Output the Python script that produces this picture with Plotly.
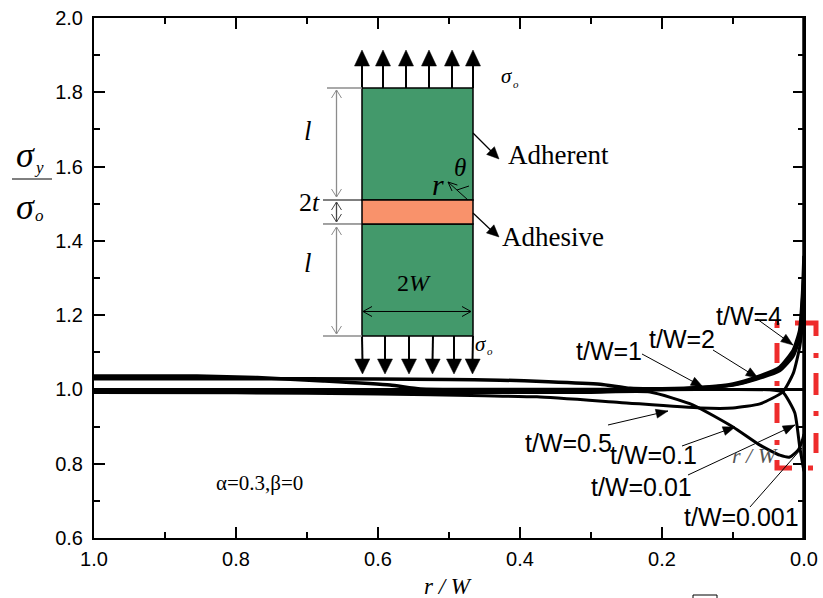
import math
import plotly.graph_objects as go

W, H = 823, 598
L, R, T, B = 94, 804, 18, 538

# ---- curve data: r/W and sigma_y/sigma_o ----
x_tw4 = [1.0, 0.8, 0.6, 0.5, 0.428, 0.36, 0.287, 0.245, 0.2, 0.142, 0.1, 0.067, 0.034, 0.015, 0.006, 0.002, 0.0]
y_tw4 = [1.029, 1.029, 1.028, 1.027, 1.025, 1.021, 1.014, 1.003, 1.002, 1.006, 1.015, 1.033, 1.06, 1.106, 1.16, 1.26, 1.36]
x_tw2 = [1.0, 0.855, 0.77, 0.677, 0.583, 0.54, 0.4, 0.3, 0.2, 0.142, 0.1, 0.067, 0.034, 0.015, 0.006, 0.002, 0.0]
y_tw2 = [1.036, 1.036, 1.032, 1.023, 1.012, 1.001, 1.0, 1.0, 1.0, 1.005, 1.013, 1.03, 1.055, 1.1, 1.15, 1.24, 1.32]
x_tw1 = [1.0, 0.7, 0.5, 0.3, 0.2, 0.142, 0.1, 0.067, 0.034, 0.015, 0.006, 0.0]
y_tw1 = [0.995, 0.995, 0.996, 0.999, 1.0, 1.004, 1.011, 1.027, 1.05, 1.09, 1.14, 1.28]
x_tw05 = [1.0, 0.8, 0.6, 0.45, 0.376, 0.26, 0.146, 0.1, 0.062, 0.03, 0.015, 0.006, 0.002, 0.0]
y_tw05 = [0.992, 0.991, 0.988, 0.983, 0.98, 0.965, 0.95, 0.95, 0.961, 0.993, 1.044, 1.115, 1.18, 1.26]
x_tw01 = [1.0, 0.7, 0.5, 0.3, 0.217, 0.156, 0.1, 0.062, 0.034, 0.02, 0.008, 0.002, 0.0]
y_tw01 = [0.992, 0.992, 0.992, 0.992, 0.993, 0.958, 0.899, 0.85, 0.823, 0.818, 0.837, 0.865, 0.88]
x_tw001 = [1.0, 0.7, 0.5, 0.3, 0.2, 0.1, 0.05, 0.03, 0.013, 0.006, 0.001, 0.0]
y_tw001 = [0.992, 0.992, 0.993, 0.997, 0.999, 1.0, 0.999, 0.993, 0.937, 0.845, 0.79, 0.78]
x_tw0001 = [1.0, 0.5, 0.2, 0.05, 0.0]
y_tw0001 = [1.0, 1.0, 1.0, 1.0, 1.0]

curves = [(x_tw4, y_tw4), (x_tw2, y_tw2), (x_tw1, y_tw1), (x_tw05, y_tw05),
          (x_tw01, y_tw01), (x_tw001, y_tw001), (x_tw0001, y_tw0001)]
widths = [3.5, 3.5, 3, 3, 3, 3, 3]

x_ticks = [1.0, 0.8, 0.6, 0.4, 0.2, 0.0]
y_ticks = [0.6, 0.8, 1.0, 1.2, 1.4, 1.6, 1.8, 2.0]

# curve labels: text, centre x px, centre y px
curve_labels = [
    ("t/W=4", 749, 316), ("t/W=2", 682, 339), ("t/W=1", 609, 351), ("t/W=0.5", 568, 443),
    ("t/W=0.1", 653, 455), ("t/W=0.01", 641, 487), ("t/W=0.001", 741, 517),
]
# leader arrows: start px, end px, with head?
leaders = [
    (757, 319, 793, 345, True), (713, 350, 758, 378, True), (642, 354, 703, 387, True),
    (608, 425, 668, 411, True), (682, 446, 735, 427, True), (688, 475, 795, 425, True),
    (750, 507, 802, 448, False),
]


def px(x):
    return (x - L) / (R - L)


def py(y):
    return 1 - (y - T) / (B - T)


def path(points, close=False):
    s = "M" + " L".join(f"{px(a):.5f},{py(b):.5f}" for a, b in points)
    return s + (" Z" if close else "")


shapes = []


def line(x0, y0, x1, y1, color="black", width=1.5, layer="above"):
    shapes.append(dict(type="path", path=path([(x0, y0), (x1, y1)]), xref="paper", yref="paper",
                       line=dict(color=color, width=width), layer=layer))


def head(x0, y0, x1, y1, length, half):
    a = math.atan2(y1 - y0, x1 - x0)
    bx, by = x1 - length * math.cos(a), y1 - length * math.sin(a)
    nx, ny = -math.sin(a), math.cos(a)
    shapes.append(dict(type="path", path=path([(x1, y1), (bx + half * nx, by + half * ny), (bx - half * nx, by - half * ny)], True),
                       xref="paper", yref="paper", fillcolor="black", line=dict(color="black", width=0.5), layer="above"))


def chevron(x0, y0, x1, y1, length, half, color, width=1):
    a = math.atan2(y1 - y0, x1 - x0)
    bx, by = x1 - length * math.cos(a), y1 - length * math.sin(a)
    nx, ny = -math.sin(a), math.cos(a)
    shapes.append(dict(type="path", path=path([(bx + half * nx, by + half * ny), (x1, y1), (bx - half * nx, by - half * ny)]),
                       xref="paper", yref="paper", line=dict(color=color, width=width), layer="above"))


def rect(x0, y0, x1, y1, fill):
    shapes.append(dict(type="rect", xref="paper", yref="paper", x0=px(x0), x1=px(x1), y0=py(y0), y1=py(y1),
                       fillcolor=fill, line=dict(color="black", width=1.5), layer="above"))


# red dash-dot highlight box, behind the curves
red_segments = [
    [(775, 323), (779, 323)], [(795, 323), (816, 323), (816, 336)], [(816, 353), (816, 358)],
    [(816, 373), (816, 395)], [(816, 411), (816, 416)], [(816, 433), (816, 453)],
    [(808, 468), (813, 468)], [(792, 468), (777, 468), (777, 460)], [(777, 440), (777, 445)],
    [(777, 403), (777, 423)], [(777, 381), (777, 386)], [(777, 343), (777, 363)], [(777, 323), (777, 328)],
]
for seg in red_segments:
    shapes.append(dict(type="path", path=path(seg), xref="paper", yref="paper",
                       line=dict(color="#EE2C2C", width=5), layer="below"))

# heavier right-hand frame edge
line(804, 18, 804, 538, "black", 3.5)

# specimen sketch
rect(362, 88, 473, 200, "#43996B")
rect(362, 224, 473, 336, "#43996B")
rect(362, 200, 473, 224, "#F9926B")

for x in [362, 383, 406, 429, 452, 473]:
    line(x, 88, x, 62, width=2)
    head(x, 88, x, 50, 16, 7.5)
for xa, xb in zip([362, 385, 409, 433, 454, 473], [362.5, 385, 409, 432.5, 454, 472.5]):
    line(xa, 336, xb, 362, width=2)
    head(xa, 336, xb, 374, 15, 7.5)

# dimension lines
gray = "#8c8c8c"
line(327, 88, 362, 88, gray, 1.3)
line(323, 200, 362, 200, "black", 1)
line(323, 224, 362, 224, "#444444", 1)
line(323, 336, 362, 336, gray, 1.3)
for y0, y1, col in [(90, 197, gray), (202, 222, "#444444"), (227, 334, gray)]:
    line(336.5, y0, 336.5, y1, col, 1.3)
    chevron(336.5, y1, 336.5, y0, 8, 5, col)
    chevron(336.5, y0, 336.5, y1, 8, 5, col)
line(363, 311.5, 471, 311.5, "black", 1)
chevron(471, 311.5, 363, 311.5, 9, 5, "black")
chevron(363, 311.5, 471, 311.5, 9, 5, "black")

# pointers in the sketch
line(473, 133, 492, 152, width=1.2)
head(473, 133, 499, 159, 12, 5.5)
line(473, 213, 492, 231, width=1.2)
head(473, 213, 499, 237, 12, 5.5)
line(468, 200, 448, 182, width=1)
chevron(468, 200, 448, 182, 9, 4, "black")
shapes.append(dict(type="path", path="M%.5f,%.5f Q%.5f,%.5f %.5f,%.5f" % (px(457), py(190), px(463), py(188), px(469), py(186)),
                   xref="paper", yref="paper", line=dict(color="black", width=1), layer="above"))

# fraction bar of the y title
line(12, 179, 52, 179, "black", 1)
# small clipped square under the plot
rect(693, 595, 717, 604, "rgba(0,0,0,0)")
shapes[-1]["line"] = dict(color="black", width=1)

# leaders for the curve labels
for x0, y0, x1, y1, has_head in leaders:
    line(x0, y0, x1, y1, "black", 1)
    if has_head:
        head(x0, y0, x1, y1, 12, 4.5)

SERIF = "Liberation Serif"
SANS = "Liberation Sans"


def text(s, x, y, size, family=SERIF, color="black", anchor="center"):
    return dict(text=s, x=px(x), y=py(y), xref="paper", yref="paper", xanchor=anchor, yanchor="middle",
                showarrow=False, font=dict(family=family, size=size, color=color))


annotations = [
    text("<i>σ</i>", 25, 155, 36), text("<i>y</i>", 39, 167, 17),
    text("<i>σ</i>", 25, 207, 36), text("<i>o</i>", 39, 215, 17),
    text("<i>σ</i>", 507, 76, 21), text("<i>o</i>", 516, 84, 11),
    text("<i>σ</i>", 481, 344, 21), text("<i>o</i>", 490, 351, 11),
    text("<i>l</i>", 308, 131, 27), text("<i>l</i>", 308, 263, 27),
    text("2<i>t</i>", 309, 202, 26), text("2<i>W</i>", 414, 283, 24),
    text("<i>θ</i>", 460, 167, 25), text("<i>r</i>", 438, 185, 30),
    text("Adherent", 558, 155, 27), text("Adhesive", 553, 237, 27),
    text("α=0.3,β=0", 259.5, 483, 21),
    text("<i>r / W</i>", 447.5, 586, 23),
    text("<i>r / W</i>", 755, 455, 22, color="#555555"),
]
for label, cx, cy in curve_labels:
    annotations.append(text(label, cx, cy, 25, SANS))

fig = go.Figure()
for (xs, ys), lw in zip(curves, widths):
    fig.add_trace(go.Scatter(x=xs, y=ys, mode="lines", line=dict(color="black", width=lw, shape="spline", smoothing=0.5),
                             showlegend=False, cliponaxis=False))

axis_common = dict(showline=True, linecolor="black", linewidth=2, mirror="ticks", showgrid=False, zeroline=False,
                   ticks="inside", ticklen=11, tickwidth=1.5, tickcolor="black",
                   tickfont=dict(family=SANS, size=20, color="black"), tickformat=".1f")
minor = dict(dtick=0.1, ticks="inside", ticklen=6, tickwidth=1.5, tickcolor="black", showgrid=False)
fig.update_xaxes(range=[1.0, 0.0], tickvals=x_ticks, minor=minor, ticklabelstandoff=2, **axis_common)
fig.update_yaxes(range=[0.6, 2.0], tickvals=y_ticks, minor=minor, ticklabelstandoff=5, **axis_common)
fig.update_layout(width=W, height=H, autosize=False, margin=dict(l=L, r=W - R, t=T, b=H - B, pad=0, autoexpand=False),
                  paper_bgcolor="white", plot_bgcolor="white", shapes=shapes, annotations=annotations, showlegend=False)
fig.write_html("out.html", post_script="document.body.style.margin='0';", config=dict(displayModeBar=False))
